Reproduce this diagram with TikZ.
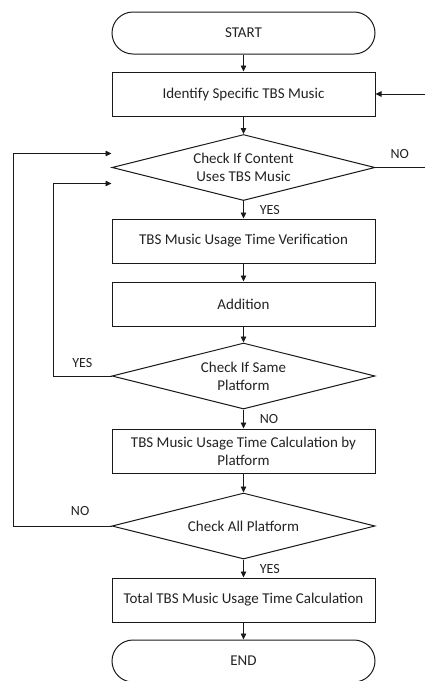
\documentclass[tikz,border=0pt]{standalone}
\usepackage{fontspec}
\setmainfont{Carlito}
\usetikzlibrary{shapes.geometric, arrows.meta, positioning}

\begin{document}
\begin{tikzpicture}[x=1pt, y=-1pt,
    every node/.style={font=\fontsize{15pt}{18pt}\selectfont, text=textColour},
    terminal/.style={draw=borderColour, line width=1pt, rectangle, rounded corners=21pt,
        minimum width=\boxWidth, minimum height=42pt},
    process/.style={draw=borderColour, line width=1pt, rectangle, align=center,
        minimum width=\boxWidth, minimum height=44pt, inner sep=2pt},
    decision/.style={draw=borderColour, line width=1pt, diamond, aspect=4, align=center,
        inner sep=0pt, minimum width=\boxWidth, minimum height=66pt},
    flow/.style={draw=borderColour, line width=0.8pt, -{Triangle[length=6pt, width=5.5pt]}},
    lbl/.style={inner sep=0pt, font=\fontsize{14pt}{16pt}\selectfont}]
    \definecolor{borderColour}{HTML}{1A1A1A}
    \definecolor{textColour}{HTML}{222222}

    \def\boxWidth{263pt}

    % Page frame
    \useasboundingbox (0,0) rectangle (424,681);

    % Main column
    \node[terminal] (start) at (243.5,33) {START};
    \node[process] (ident) at (243.5,94) {Identify Specific TBS Music};
    \node[decision] (chk1) at (243.5,167.5) {Check If Content\\Uses TBS Music};
    \node[process] (verif) at (243.5,241) {TBS Music Usage Time Verification};
    \node[process] (add) at (243.5,304) {Addition};
    \node[decision] (chk2) at (243.5,376) {Check If Same\\Platform};
    \node[process] (calc) at (243.5,451) {TBS Music Usage Time Calculation by\\Platform};
    \node[decision] (chk3) at (243.5,526) {Check All Platform};
    \node[process] (total) at (243.5,600) {Total TBS Music Usage Time Calculation};
    \node[terminal] (stop) at (243.5,661) {END};

    % Straight arrows
    \foreach \a/\b in {start/ident, ident/chk1, verif/add, add/chk2, calc/chk3, total/stop}
        \draw[flow] (\a) -- (\b);
    \draw[flow] (chk1) -- node[lbl, right=16pt] {YES} (verif);
    \draw[flow] (chk2) -- node[lbl, right=16pt] {NO} (calc);
    \draw[flow] (chk3) -- node[lbl, right=16pt] {YES} (total);

    % Loops
    \draw[flow] (chk1.east) -- ++(70,0) |- (ident.east);
    \node[lbl, above right=9pt and 15pt of chk1.east] (no1) {NO};
    \draw[flow] (chk2.west) -- ++(-58,0) |- ([yshift=-16pt]chk1.west);
    \node[lbl, above left=8pt and 19pt of chk2.west] (yes2) {YES};
    \draw[flow] (chk3.west) -- ++(-98,0) |- ([yshift=14pt]chk1.west);
    \node[lbl, above left=10pt and 22pt of chk3.west] (no3) {NO};

\end{tikzpicture}
\end{document}
